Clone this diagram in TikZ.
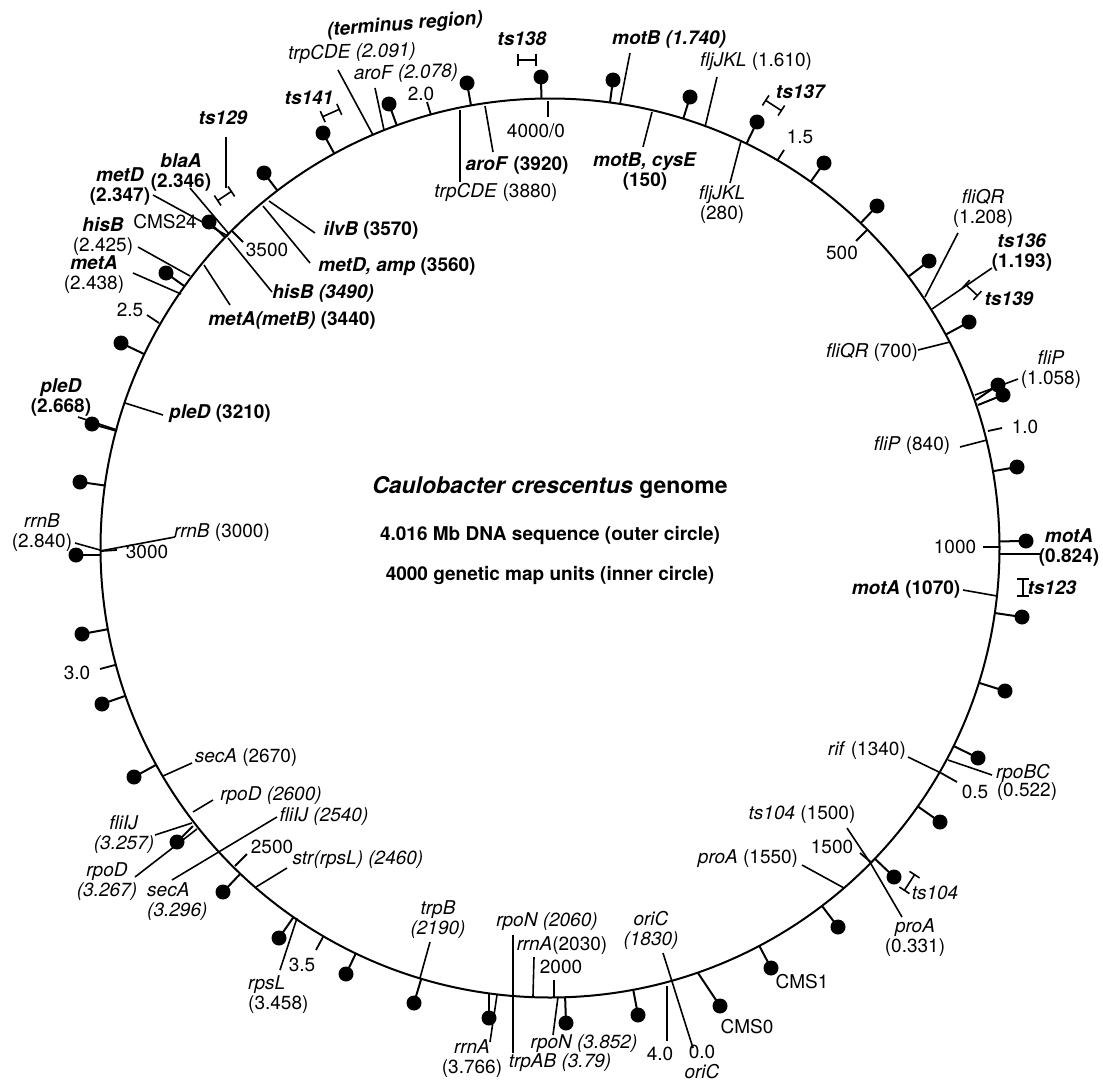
\documentclass[tikz,border=0pt]{standalone}
\usepackage{fontspec}
\setmainfont{TeX Gyre Heros}
\usetikzlibrary{calc,arrows.meta}
\newcommand{\bfit}[1]{\textbf{\textit{#1}}}
\begin{document}
\begin{tikzpicture}[x=1pt,y=-1pt,
 lab/.style={font=\fontsize{19}{20}\selectfont, inner sep=0pt, align=center},
 dot/.style={circle, fill=black, inner sep=0pt, minimum size=15pt},
 stem/.style={line width=2pt},
 lead/.style={line width=1.6pt},
 tck/.style={line width=1.8pt},
 brk/.style={line width=1.6pt, {Bar[width=12pt,line width=1.6pt]}-{Bar[width=12pt,line width=1.6pt]}}]
\useasboundingbox[fill=white] (0,0) rectangle (1103,1081);
\coordinate (C) at (550,548);
\draw[line width=2pt] (C) circle[radius=449.5pt];

% lollipop markers with radial stems
\foreach \n/\x/\y in {1/541/77, 2/613/80, 3/690/97, 4/757/122, 5/824/163, 6/877/206, 7/929/261, 8/969/322,
  10/1017/467, 11/1026/541, 12/1022/617, 13/1005/691, 14/978/758, 15/940/822, 16/894/877, 17/838/927,
  18/771/968, 20/638/1015, 21/566/1023, 23/414/1003, 24/346/974, 25/279/938, 26/223/892, 28/134/777,
  29/102/704, 30/82/634, 32/80/482, 34/121/343, 35/166/273, 36/209/222, 37/264/173, 38/323/133,
  39/389/104, 40/467/83}{
  \node[dot] (d\n) at (\x,\y) {};
  \draw[stem] ($(C)!449.5pt!(d\n.center)$) -- (d\n.center);
}
% markers with non-radial stems
\node[dot] (d9a) at (998,385) {};
\node[dot] (d9b) at (1003,395) {};
\node[dot] (d19) at (720,1006) {};
\node[dot] (d22) at (489,1018) {};
\node[dot] (d27) at (177,842) {};
\node[dot] (d31) at (76,555) {};
\node[dot] (d33) at (92,424) {};
\draw[stem] (976,400) -- (d9a.center);
\draw[stem] (978,405) -- (d9b.center);
\draw[stem] (698,973) -- (d19.center);
\draw[stem] (489,994) -- (d22.center);
\draw[stem] (193,826) -- (d27.center);
\draw[stem] (100,555) -- (d31.center);
\draw[stem] (117,431) -- (d33.center);

% title
\node[font=\fontsize{23}{25}\selectfont, inner sep=0pt] (title) at (550,487) {\textbf{\textit{Caulobacter crescentus} genome}};
\node[lab] (sub1) at (550,535) {\textbf{4.016 Mb DNA sequence (outer circle)}};
\node[lab] (sub2) at (550,575) {\textbf{4000 genetic map units (inner circle)}};

% labels
\node[lab, rotate=4.5] (term) at (405,25) {\bfit{(terminus region)}};
\node[lab, rotate=1.5] (trpCDEa) at (352,53) {\textit{trpCDE (2.091)}};
\node[lab, rotate=1.5] (aroFa) at (406,73.5) {\textit{aroF (2.078)}};
\node[lab] (o20) at (421,94) {2.0};
\node[lab] (ts141) at (309,98) {\bfit{ts141}};
\node[lab] (ts129) at (223,118) {\bfit{ts129}};
\node[lab] (blaA) at (181,172) {\bfit{blaA}\\\textbf{(2.346)}};
\node[lab] (metDa) at (120,186) {\bfit{metD}\\\textbf{(2.347)}};
\node[lab] (cms24) at (165,222) {CMS24};
\node[lab] (hisBa) at (103,236.5) {\bfit{hisB}\\(2.425)};
\node[lab] (metAa) at (94,275) {\bfit{metA}\\(2.438)};
\node[lab] (o25) at (130,310) {2.5};
\node[lab] (i3500) at (267,250) {3500};
\node[lab] (ilvB) at (371,230) {\bfit{ilvB} \textbf{(3570)}};
\node[lab] (metDb) at (397,267) {\bfit{metD, amp} \textbf{(3560)}};
\node[lab] (hisBb) at (323,293) {\bfit{hisB (3490)}};
\node[lab] (metAb) at (292,320) {\bfit{metA(metB)} \textbf{(3440)}};
\node[lab] (trpCDEb) at (496,192) {\textit{trpCDE} (3880)};
\node[lab] (aroFb) at (517,165) {\bfit{aroF} \textbf{(3920)}};
\node[lab] (ts138) at (522,39) {\bfit{ts138}};
\node[lab] (i0) at (536,131) {4000/0};
\node[lab] (motBa) at (669,39) {\bfit{motB (1.740)}};
\node[lab] (motBb) at (645,171) {\bfit{motB, cysE}\\\textbf{(150)}};
\node[lab] (fljJKLa) at (756,62) {\textit{fljJKL} (1.610)};
\node[lab] (fljJKLb) at (722,205) {\textit{fljJKL}\\(280)};
\node[lab] (ts137) at (801,92) {\bfit{ts137}};
\node[lab] (o15) at (800,137) {1.5};
\node[lab] (i500) at (842,253) {500};
\node[lab] (fliQRa) at (983,208) {\textit{fliQR}\\(1.208)};
\node[lab] (ts136) at (1022,252.5) {\bfit{ts136}\\\textbf{(1.193)}};
\node[lab] (ts139) at (1009,299) {\bfit{ts139}};
\node[lab] (fliQRb) at (872,352) {\textit{fliQR} (700)};
\node[lab] (fliPa) at (1051,370) {\textit{fliP}\\(1.058)};
\node[lab] (o10) at (1025,427) {1.0};
\node[lab] (fliPb) at (912,446) {\textit{fliP} (840)};
\node[lab] (i1000) at (955,547) {1000};
\node[lab] (motAa) at (1069,547.5) {\bfit{motA}\\\textbf{(0.824)}};
\node[lab] (ts123) at (1052,588) {\bfit{ts123}};
\node[lab] (motAb) at (906,589) {\bfit{motA} \textbf{(1070)}};
\node[lab] (rif) at (867,751) {\textit{rif} (1340)};
\node[lab] (rpoBC) at (1023,773) {\textit{rpoBC}};
\node[lab] (o05) at (975,792) {0.5};
\node[lab] (rpoBCn) at (1027,792) {(0.522)};
\node[lab] (ts104a) at (802,815) {\textit{ts104} (1500)};
\node[lab] (i1500) at (832,847) {1500};
\node[lab] (proAb) at (748,859) {\textit{proA} (1550)};
\node[lab] (ts104b) at (935,893) {\textit{ts104}};
\node[lab] (proAa) at (915,937.5) {\textit{proA}\\(0.331)};
\node[lab] (cms1) at (802,982) {CMS1};
\node[lab] (cms0) at (747,1027) {CMS0};
\node[lab] (oriCa) at (651,930) {\textit{oriC}\\\textit{(1830)}};
\node[lab] (o00) at (702,1061.5) {0.0\\\textit{oriC}};
\node[lab] (o40) at (660,1054) {4.0};
\node[lab] (i2000) at (561,967) {2000};
\node[lab] (rpoNa) at (584,1044) {\textit{rpoN (3.852)}};
\node[lab] (rrnAb) at (562,946) {\textit{rrnA}(2030)};
\node[lab] (rpoNb) at (547,922) {\textit{rpoN (2060)}};
\node[lab] (trpAB) at (560,1063) {\textit{trpAB (3.79)}};
\node[lab] (rrnAa) at (472,1059) {\textit{rrnA}\\(3.766)};
\node[lab] (trpB) at (438,919.5) {\textit{trpB}\\\textit{(2190)}};
\node[lab] (str) at (358,860) {\textit{str(rpsL) (2460)}};
\node[lab] (i2500) at (272,847) {2500};
\node[lab] (o35) at (302,965) {3.5};
\node[lab, align=left, anchor=west] (rpsL) at (248,995) {\textit{rpsL}\\(3.458)};
\node[lab] (fliIJb) at (324,817) {\textit{fliIJ (2540)}};
\node[lab] (rpoDb) at (271,796) {\textit{rpoD (2600)}};
\node[lab] (secAb) at (246,758) {\textit{secA} (2670)};
\node[lab] (fliIJa) at (124,835) {\textit{fliIJ}\\\textit{(3.257)}};
\node[lab] (rpoDa) at (107,882) {\textit{rpoD}\\\textit{(3.267)}};
\node[lab, align=left, anchor=west] (secAa) at (147,902) {\textit{secA}\\\textit{(3.296)}};
\node[lab] (o30) at (77,673) {3.0};
\node[lab] (rrnBa) at (42,533) {\textit{rrnB}\\(2.840)};
\node[lab] (rrnBb) at (222,533) {\textit{rrnB} (3000)};
\node[lab] (i3000) at (147,552) {3000};
\node[lab] (pleDa) at (61,397) {\bfit{pleD}\\\textbf{(2.668)}};
\node[lab] (pleDb) at (220,414) {\bfit{pleD} \textbf{(3210)}};

% scale ticks
\draw[tck] (427,102) -- (431,115);   % 2.0
\draw[tck] (548,101) -- (548,117);   % 4000/0
\draw[tck] (777,161) -- (784,150);   % 1.5
\draw[tck] (867,230) -- (856,241);   % 500
\draw[tck] (988,431) -- (1002,428);  % 1.0
\draw[tck] (983,547) -- (999,547);   % 1000
\draw[tck] (941,773) -- (957,782);   % 0.5
\draw[tck] (860,853) -- (872,863);   % 1500
\draw[tck] (667,986) -- (667,1041);  % 4.0
\draw[tck] (554,980) -- (554,997);   % 2000
\draw[tck] (323,937) -- (316,950);   % 3.5
\draw[tck] (235,866) -- (247,854);   % 2500
\draw[tck] (115,665) -- (100,669);   % 3.0
\draw[tck] (101,551) -- (117,550);   % 3000
\draw[tck] (147,315) -- (159,323);   % 2.5
\draw[tck] (232,231) -- (243,242);   % 3500

% leader lines
\draw[lead] (338,70) -- (373,135);
\draw[lead] (375,88) -- (384,130);
\draw[lead] (460,110) -- (460,182);
\draw[lead] (485,106) -- (493,152);
\draw[lead] (630,53) -- (620,104);
\draw[lead] (652,112) -- (643,147);
\draw[lead] (717,77) -- (705,127);
\draw[lead] (741,141) -- (730,183);
\draw[lead] (958,233) -- (925,297);
\draw[lead] (992,268) -- (932,309);
\draw[lead] (918,350) -- (950,342);
\draw[lead] (975,395) -- (1018,379);
\draw[lead] (960,447) -- (987,440);
\draw[lead] (999,554) -- (1040,554);
\draw[lead] (963,590) -- (997,596);
\draw[lead] (908,757) -- (941,773);
\draw[lead] (948,760) -- (992,775);
\draw[lead] (847,828) -- (871,864);
\draw[lead] (871,864) -- (902,917);
\draw[lead] (802,865) -- (844,888);
\draw[lead] (663,953) -- (693,1048);
\draw[lead] (553,1035) -- (558,997);
\draw[lead] (534,957) -- (533,996);
\draw[lead] (513,935) -- (513,1053);
\draw[lead] (497,995) -- (490,1042);
\draw[lead] (430,942) -- (420,978);
\draw[lead] (297,918) -- (280,970);
\draw[lead] (287,868) -- (256,887);
\draw[lead] (277,817) -- (172,880);
\draw[lead] (213,800) -- (193,812);
\draw[lead] (192,823) -- (155,835);
\draw[lead] (197,829) -- (135,877);
\draw[lead] (192,763) -- (163,776);
\draw[lead] (75,543) -- (100,550);
\draw[lead] (175,537) -- (100,551);
\draw[lead] (78,417) -- (117,430);
\draw[lead] (163,415) -- (125,403);
\draw[lead] (230,305) -- (204,265);
\draw[lead] (272,292) -- (228,238);
\draw[lead] (310,263) -- (263,206);
\draw[lead] (315,233) -- (269,201);
\draw[lead] (190,188) -- (229,234);
\draw[lead] (153,195) -- (228,236);
\draw[lead] (138,247) -- (190,276);
\draw[lead] (133,273) -- (181,294);
\draw[lead] (226,137) -- (226,188);

% ts interval brackets
\draw[brk] (517,60) -- (537,60);
\draw[brk] (322,117) -- (340,109);
\draw[brk] (217,201) -- (232,191);
\draw[brk] (765,100) -- (782,111);
\draw[brk] (965,284) -- (978,296);
\draw[brk] (1023,578) -- (1023,597);
\draw[brk] (915,874) -- (904,891);
\end{tikzpicture}
\end{document}
